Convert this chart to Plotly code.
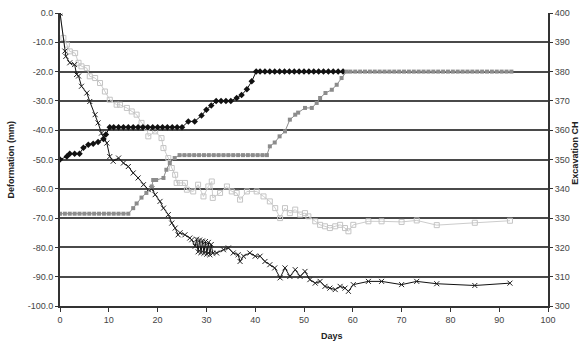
import plotly.graph_objects as go

# Excavation CH series 1 (black diamonds, right axis)
ch1_days = [0, 1.4, 2, 3, 4, 4.8, 5.8, 6.8, 7.8, 8.9, 9.4, 10.2, 11, 12, 13, 14, 15, 16, 17, 18, 19, 20,
            21, 22, 23, 24, 25, 26.3, 27.6, 29, 30, 31, 32, 33, 34, 35, 36.2, 37.2, 38.3, 39.3, 40.2,
            41, 42, 43, 44, 45, 46, 47, 48, 49, 50, 51, 52, 53, 54, 55, 56, 57, 58]
ch1_vals = [350, 351, 352, 352, 352, 354, 355, 355.4, 356, 357, 358.5, 361, 361, 361, 361, 361, 361, 361,
            361, 361, 361, 361, 361, 361, 361, 361, 361, 363, 363, 365, 367, 368.4, 370, 370, 370, 370,
            371, 372, 374, 376.7, 380, 380, 380, 380, 380, 380, 380, 380, 380, 380, 380, 380, 380, 380,
            380, 380, 380, 380, 380]

# Excavation CH series 2 (grey filled squares, right axis)
ch2_days = [0, 1, 2, 3, 4, 5, 6, 7, 8, 9, 10, 11, 12, 13, 14, 15, 15.7, 16.7, 17.7, 18.8, 19.1, 19.7,
            21.2, 21.8, 22.5, 23.5, 24.5, 25.5, 26.5, 27.5, 28.5, 29.5, 30.5, 31.5, 32.5, 33.5, 34.5,
            35.5, 36.5, 37.5, 38.5, 39.5, 40.5, 41.5, 42.4, 43, 44, 45, 46.1, 47.1, 48.2, 48.8, 50.2,
            51.6, 52.6, 53.3, 54.4, 55.7, 56.7, 57.7, 58.7, 59.5, 60.5, 61.5, 62.5, 63.5, 64.5, 65.5,
            66.5, 67.5, 68.5, 69.5, 70.5, 71.5, 72.5, 73.5, 74.5, 75.5, 76.5, 77.5, 78.5, 79.5, 80.5,
            81.5, 82.5, 83.5, 84.5, 85.5, 86.5, 87.5, 88.5, 89.5, 90.5, 91.5, 92.5]
ch2_vals = [331.5, 331.5, 331.5, 331.5, 331.5, 331.5, 331.5, 331.5, 331.5, 331.5, 331.5, 331.5, 331.5,
            331.5, 331.5, 333.4, 335, 337, 338.6, 340.8, 343, 343, 343.7, 346.5, 348.8, 350.5, 351.5,
            351.5, 351.5, 351.5, 351.5, 351.5, 351.5, 351.5, 351.5, 351.5, 351.5, 351.5, 351.5, 351.5,
            351.5, 351.5, 351.5, 351.5, 351.5, 354.5, 355.8, 357.9, 359.6, 363.6, 365.3, 366, 367.6,
            367.6, 369.3, 371, 372.7, 373.8, 375.5, 377.8, 380, 380, 380, 380, 380, 380, 380, 380, 380,
            380, 380, 380, 380, 380, 380, 380, 380, 380, 380, 380, 380, 380, 380, 380, 380, 380, 380,
            380, 380, 380, 380, 380, 380, 380, 380]

# Deformation series 1 (black crosses, left axis)
def1_days = [0, 1, 1.2, 2, 3, 3.4, 3.8, 4.4, 5.5, 6.1, 7.2, 7.8, 8.5, 8.9, 9.6, 10.2, 10.9, 12, 13, 14,
             15, 16, 17.1, 18.1, 18.8, 19.5, 20.5, 21.2, 22.2, 22.9, 23.6, 24.2, 24.6, 25.6, 26.6, 27,
             27.7, 28.0, 28.3, 28.6, 28.9, 29.2, 29.5, 29.8, 30.1, 30.4, 30.7, 31.0, 31.3, 32.1, 33.5,
             34.5, 35.5, 36.5, 36.9, 37.6, 38.9, 40, 41, 42, 43, 44, 45.1, 46.1, 47.1, 48.2, 49.2,
             50.2, 51.2, 52.3, 53.3, 54.3, 55.3, 56.4, 57.4, 58.4, 59.1, 60.1, 63.2, 65.9, 70, 73.1,
             77.2, 85, 92.2]
def1_vals = [0, -13, -14.8, -17, -17.6, -21, -21.5, -25, -27.3, -30.2, -34.7, -37.5, -41, -42.1, -44.4,
             -49, -50.6, -49.5, -51.2, -52.4, -54.6, -56.3, -58.6, -60.3, -60, -62, -64.3, -66.6,
             -68.8, -71.7, -73.4, -75.7, -75, -75.7, -76.8, -77.4, -79.6, -77.2, -81.5, -77.5, -81.8,
             -77.8, -82, -78, -82.3, -78.3, -82.5, -79, -82, -81.9, -80.8, -80.2, -81.9, -82.5, -84.8,
             -83, -81.9, -83, -83, -84.8, -85.9, -87, -90.4, -87, -89.9, -87.6, -89.9, -88.2, -91,
             -92.2, -91.6, -93.3, -93.9, -94.4, -93.3, -93.9, -95, -92.7, -91.6, -91.6, -92.7, -91.6,
             -92.4, -93, -92.2]

# Deformation series 2 (light grey open squares, left axis)
def2_days = [0, 0.7, 1.4, 2, 3.1, 3.8, 4.4, 5.5, 6.1, 7.2, 8.2, 9.2, 10.2, 11.6, 12.3, 13.7, 14.7, 15.7,
             16.7, 17.8, 18.1, 19.5, 20.8, 21.2, 22.2, 22.9, 23.6, 23.9, 24.6, 25.6, 26, 27.3, 28.3,
             29.4, 30.4, 31.1, 31.3, 32.8, 34.2, 35.2, 36.2, 36.9, 38.3, 40.3, 41.7, 43, 44.1, 45.1,
             46.1, 47.1, 48.2, 49.2, 50.2, 50.9, 52.3, 53.3, 54.3, 55.3, 56.4, 57.4, 58.4, 59.1, 60.1,
             63.2, 65.9, 70, 73.1, 77.2, 85, 92.2]
def2_vals = [0, -8.5, -10.8, -13.1, -13.7, -17, -18.2, -18.8, -21.6, -22.2, -23.9, -26.8, -29.6, -31.3,
             -31.3, -32.4, -33.6, -34.7, -37.5, -39.2, -42.1, -40.4, -42.7, -46.1, -49.5, -52.9, -55.2,
             -58, -58, -58, -60.3, -60.9, -58.6, -62.6, -59.2, -57.5, -63.1, -61.4, -59.2, -60.9, -61.4,
             -63.7, -60.9, -60.9, -62.6, -64.3, -66.6, -70, -66.6, -68.3, -67.1, -68.8, -68.3, -69.4,
             -71.1, -72.3, -72.8, -73.4, -72.8, -72.3, -73.4, -74.5, -72.3, -71.1, -71.1, -71.3, -70.8,
             -72.4, -71.6, -70.9]

x_ticks = [0, 10, 20, 30, 40, 50, 60, 70, 80, 90, 100]
y_ticks = [0, -10, -20, -30, -40, -50, -60, -70, -80, -90, -100]
y2_ticks = [300, 310, 320, 330, 340, 350, 360, 370, 380, 390, 400]

fig = go.Figure()
fig.add_trace(go.Scatter(x=def2_days, y=def2_vals, mode="lines+markers",
                         line=dict(color="#cccccc", width=1),
                         marker=dict(symbol="square-open", size=5, color="#c4c4c4", line=dict(width=1))))
fig.add_trace(go.Scatter(x=def1_days, y=def1_vals, mode="lines+markers",
                         line=dict(color="#111111", width=1),
                         marker=dict(symbol="x-thin", size=5, line=dict(color="#222222", width=1))))
fig.add_trace(go.Scatter(x=ch1_days, y=ch1_vals, yaxis="y2", mode="lines+markers",
                         line=dict(color="#111111", width=1),
                         marker=dict(symbol="diamond", size=5, color="#111111")))
fig.add_trace(go.Scatter(x=ch2_days, y=ch2_vals, yaxis="y2", mode="lines+markers",
                         line=dict(color="#8c8c8c", width=1),
                         marker=dict(symbol="square", size=4, color="#8c8c8c")))

tickfont = dict(family="Arial, Liberation Sans", size=9, color="#444444")
titlefont = dict(family="Arial, Liberation Sans", size=9, color="#222222")

fig.update_layout(
    width=583, height=344,
    margin=dict(l=60, r=35, t=13, b=38),
    paper_bgcolor="white", plot_bgcolor="white",
    showlegend=False,
    xaxis=dict(range=[0, 100], tickvals=x_ticks, ticktext=[str(v) for v in x_ticks],
               showgrid=False, zeroline=False, showline=True, linecolor="#333333", linewidth=2,
               ticks="outside", ticklen=4, tickcolor="#333333", tickwidth=1, tickfont=tickfont,
               automargin=False),
    yaxis=dict(range=[-100, 0], tickvals=y_ticks, ticktext=["%.1f" % v for v in y_ticks],
               showgrid=True, gridcolor="#4a4a4a", gridwidth=2, zeroline=False,
               showline=True, linecolor="#333333", linewidth=2,
               ticks="outside", ticklen=3, tickcolor="#333333", tickfont=tickfont,
               automargin=False),
    yaxis2=dict(range=[300, 400], tickvals=y2_ticks, ticktext=[str(v) for v in y2_ticks],
                overlaying="y", side="right", showgrid=False, zeroline=False,
                showline=True, linecolor="#333333", linewidth=2,
                ticks="outside", ticklen=3, tickcolor="#333333", tickfont=tickfont,
                automargin=False),
    annotations=[
        dict(text="<b>Days</b>", xref="paper", yref="paper", x=0.558, y=-0.0, yshift=-30,
             showarrow=False, font=titlefont, xanchor="center", yanchor="middle"),
        dict(text="<b>Deformation (mm)</b>", xref="paper", yref="paper", x=0, xshift=-50, y=0.5,
             textangle=-90, showarrow=False, font=titlefont, xanchor="center", yanchor="middle"),
        dict(text="<b>Excavation CH</b>", xref="paper", yref="paper", x=1, xshift=27, y=0.52,
             textangle=-90, showarrow=False, font=titlefont, xanchor="center", yanchor="middle"),
    ],
)

fig.write_html("out.html")
